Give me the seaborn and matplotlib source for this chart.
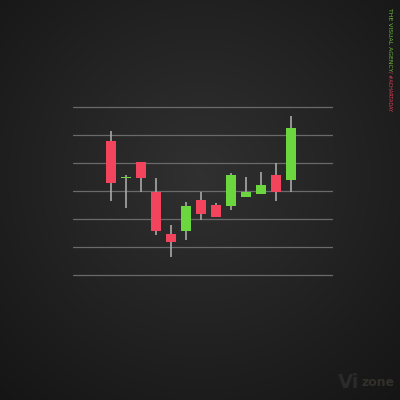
import numpy as np
import pandas as pd
import matplotlib
matplotlib.use("Agg")
import matplotlib.pyplot as plt
import seaborn as sns

# candle values (grid units, 0 = bottom line)
days = list(range(13))
opens  = [4.80, 3.45, 4.02, 2.96, 1.48, 1.58, 2.67, 2.51, 2.46, 2.77, 2.88, 3.58, 3.39]
closes = [3.29, 3.45, 3.45, 1.58, 1.17, 2.46, 2.17, 2.07, 3.57, 2.98, 3.20, 2.98, 5.25]
highs  = [5.15, 3.57, 4.02, 3.48, 1.79, 2.62, 2.98, 2.58, 3.65, 3.49, 3.69, 3.99, 5.68]
lows   = [2.65, 2.38, 2.98, 1.43, 0.63, 1.25, 1.96, 2.07, 2.32, 2.77, 2.88, 2.65, 2.98]

df = pd.DataFrame({"day": days, "open": opens, "close": closes,
                   "high": highs, "low": lows})
df["up"] = df["close"] >= df["open"]
df["bottom"] = df[["open", "close"]].min(axis=1)
df["size"] = (df["close"] - df["open"]).abs()

red = "#f2445c"
green = "#6cd63e"

sns.set_style("dark")
fig = plt.figure(figsize=(4, 4), dpi=100)

# radial dark background
bg = fig.add_axes([0, 0, 1, 1])
yy, xx = np.mgrid[0:400, 0:400]
r = np.sqrt((xx - 200) ** 2 + (yy - 175) ** 2) / 280
shade = np.clip(0.19 - 0.10 * r, 0.08, 0.2)
bg.imshow(np.dstack([shade] * 3), extent=[0, 1, 0, 1], aspect="auto")
bg.set_axis_off()

ax = fig.add_axes([73 / 400, 1 - 280.6 / 400, 260 / 400, 179.2 / 400])
ax.set_facecolor("none")
ax.set_xlim(-38 / 15, 222 / 15)
ax.set_ylim(-0.2, 6.2)
for v in range(7):
    ax.axhline(v, color="#6a6a6a", lw=0.9, zorder=1)

ax.vlines(df["day"], df["low"], df["high"], color="#a8a8a8", lw=1.2, zorder=2)
cols = [green if u else red for u in df["up"]]
sizes = [s if s > 0.02 else 0.04 for s in df["size"]]
ax.bar(df["day"], sizes, bottom=df["bottom"], width=0.73, color=cols,
       edgecolor="none", linewidth=0, zorder=3)

ax.set_xticks([])
ax.set_yticks([])
for s in ax.spines.values():
    s.set_visible(False)

fig.text(0.975, 0.98, "THE VISUAL AGENCY", color="#6cbf3a", fontsize=4.4,
         rotation=-90, ha="center", va="top")
fig.text(0.975, 0.822, "/ #ACHARTADAY", color="#e0405a", fontsize=3.6,
         rotation=-90, ha="center", va="top")
fig.text(0.845, 0.03, "Vi", color="#2a2a2a", fontsize=14, fontweight="bold")
fig.text(0.905, 0.035, "zone", color="#33302a", fontsize=9, fontweight="bold")

fig.savefig("out.png", dpi=100)
